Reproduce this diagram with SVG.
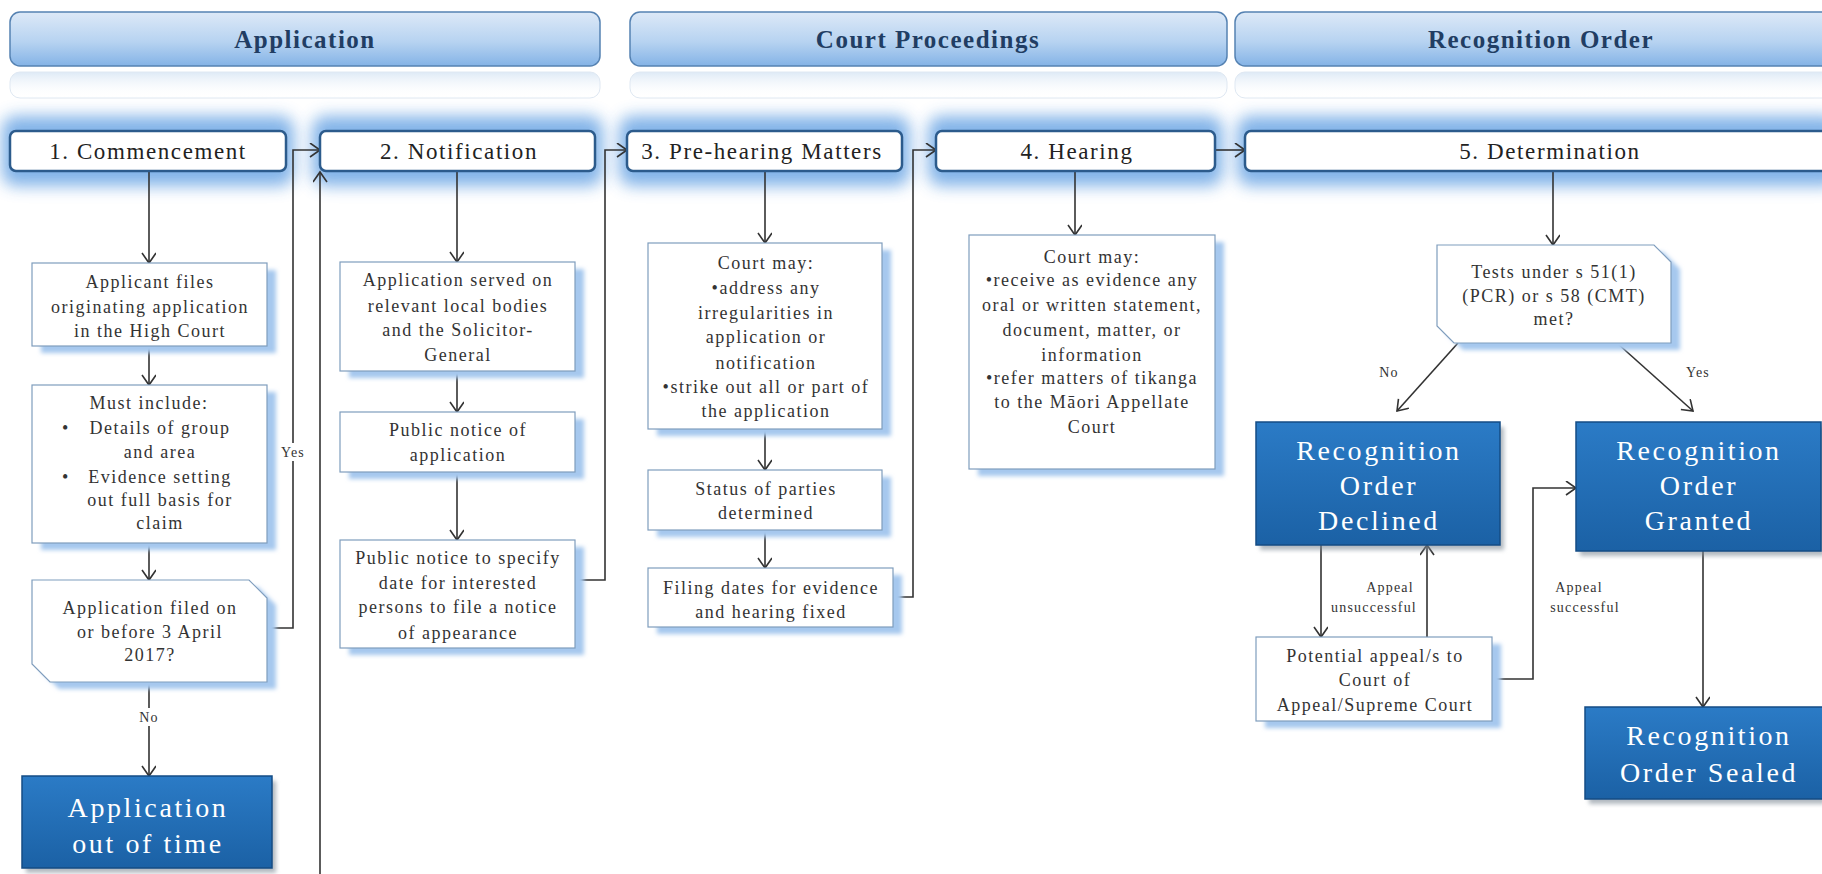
<svg xmlns="http://www.w3.org/2000/svg" width="1822" height="874" viewBox="0 0 1822 874">
<defs>
<style>
.hdrbox{fill:url(#gHdr);stroke:#5582b2;stroke-width:1.5}
.refl{fill:url(#gRefl);stroke:#dfe8f2;stroke-width:1}
.hdr{font-family:"Liberation Serif",serif;font-weight:bold;font-size:25px;fill:#213d63;letter-spacing:1.5px;text-anchor:middle}
.glow{fill:#74abe6;opacity:0.9;filter:url(#fGlow)}
.stepbox{fill:#fff;stroke:#2c5b8c;stroke-width:2.5}
.step{font-family:"Liberation Serif",serif;font-size:23px;fill:#222;letter-spacing:1.6px;text-anchor:middle}
.box{fill:#fff;stroke:#7f9dbd;stroke-width:1.2}
.sh{fill:#a6c8ee;filter:url(#fSh)}
.shd{fill:#7f8a96;filter:url(#fSh);opacity:0.6}
.dbox{fill:url(#gDark);stroke:#154c85;stroke-width:1.5}
.t{font-family:"Liberation Serif",serif;font-size:18px;fill:#333;letter-spacing:1.5px;text-anchor:middle}
.big{font-family:"Liberation Serif",serif;font-size:28px;fill:#fff;letter-spacing:2.6px;text-anchor:middle}
.lbl{font-family:"Liberation Serif",serif;font-size:14px;fill:#333;letter-spacing:1.2px;text-anchor:middle}
.ca{fill:none;stroke:#333;stroke-width:1.6;marker-end:url(#arr)}
.bg{fill:#fff}
</style>
<marker id="arr" markerUnits="userSpaceOnUse" markerWidth="14" markerHeight="16" refX="11" refY="7" orient="auto">
<path d="M1,0 L11,7 L1,14" fill="none" stroke="#333" stroke-width="1.6"/>
</marker>
<linearGradient id="gHdr" x1="0" y1="0" x2="0" y2="1">
<stop offset="0" stop-color="#dde9f7"/>
<stop offset="0.55" stop-color="#b7d3f1"/>
<stop offset="1" stop-color="#84b3e6"/>
</linearGradient>
<linearGradient id="gRefl" x1="0" y1="0" x2="0" y2="1">
<stop offset="0" stop-color="#cfe0f2" stop-opacity="0.7"/>
<stop offset="1" stop-color="#ffffff" stop-opacity="0"/>
</linearGradient>
<linearGradient id="gDark" x1="0" y1="0" x2="0" y2="1">
<stop offset="0" stop-color="#2b7bc6"/>
<stop offset="1" stop-color="#1b61a5"/>
</linearGradient>
<filter id="fGlow" x="-20%" y="-80%" width="140%" height="260%">
<feGaussianBlur stdDeviation="8"/>
</filter>
<filter id="fSh" x="-10%" y="-10%" width="120%" height="120%">
<feGaussianBlur stdDeviation="2"/>
</filter>
</defs>
<rect width="1822" height="874" fill="#fff"/>

<g id="headers">
<g id="hdr-application">
<rect class="refl" x="10" y="72" width="590" height="26" rx="10"/>
<rect class="hdrbox" x="10" y="12" width="590" height="54" rx="10"/>
<text class="hdr" x="305" y="48">Application</text>
</g>
<g id="hdr-court">
<rect class="refl" x="630" y="72" width="597" height="26" rx="10"/>
<rect class="hdrbox" x="630" y="12" width="597" height="54" rx="10"/>
<text class="hdr" x="928" y="48">Court Proceedings</text>
</g>
<g id="hdr-recognition">
<rect class="refl" x="1235" y="72" width="600" height="26" rx="10"/>
<rect class="hdrbox" x="1235" y="12" width="600" height="54" rx="10"/>
<text class="hdr" x="1541" y="48">Recognition Order</text>
</g>
</g>

<g id="glows">
<rect class="glow" x="2" y="116" width="292" height="70" rx="14"/>
<rect class="glow" x="312" y="116" width="291" height="70" rx="14"/>
<rect class="glow" x="619" y="116" width="291" height="70" rx="14"/>
<rect class="glow" x="928" y="116" width="295" height="70" rx="14"/>
<rect class="glow" x="1237" y="116" width="604" height="70" rx="14"/>
</g>

<g id="connectors">
<path class="ca" d="M149,172 V263"/>
<path class="ca" d="M149,346 V385"/>
<path class="ca" d="M149,543 V580"/>
<path class="ca" d="M267,628 H293 V150 H320"/>
<rect class="bg" x="280" y="443" width="26" height="18"/>
<text class="lbl" x="293" y="457">Yes</text>
<path class="ca" d="M149,682 V776"/>
<rect class="bg" x="136" y="708" width="26" height="18"/>
<text class="lbl" x="149" y="722">No</text>
<path class="ca" d="M320,874 V172"/>
<path class="ca" d="M457,172 V262"/>
<path class="ca" d="M457,371 V412"/>
<path class="ca" d="M457,472 V540"/>
<path class="ca" d="M575,580 H605 V150 H627"/>
<path class="ca" d="M765,171 V243"/>
<path class="ca" d="M765,429 V470"/>
<path class="ca" d="M765,530 V568"/>
<path class="ca" d="M893,597 H913 V150 H936"/>
<path class="ca" d="M1075,171 V235"/>
<path class="ca" d="M1215,150 H1245"/>
<path class="ca" d="M1553,171 V245"/>
<path class="ca" d="M1458,343 L1397,411"/>
<text class="lbl" x="1389" y="377">No</text>
<path class="ca" d="M1617,343 L1693,411"/>
<text class="lbl" x="1698" y="377">Yes</text>
<path class="ca" d="M1321,545 V637"/>
<path class="ca" d="M1427,637 V545"/>
<text class="lbl" x="1390" y="592">Appeal</text>
<text class="lbl" x="1374" y="612">unsuccessful</text>
<path class="ca" d="M1492,679 H1533 V488 H1576"/>
<text class="lbl" x="1579" y="592">Appeal</text>
<text class="lbl" x="1585" y="612">successful</text>
<path class="ca" d="M1703,551 V707"/>
</g>

<g id="step1">
<rect class="stepbox" x="10" y="131" width="276" height="40" rx="6"/>
<text class="step" x="148" y="159">1. Commencement</text>
</g>
<g id="step2">
<rect class="stepbox" x="320" y="131" width="275" height="40" rx="6"/>
<text class="step" x="459" y="159">2. Notification</text>
</g>
<g id="step3">
<rect class="stepbox" x="627" y="131" width="275" height="40" rx="6"/>
<text class="step" x="762" y="159">3. Pre-hearing Matters</text>
</g>
<g id="step4">
<rect class="stepbox" x="936" y="131" width="279" height="40" rx="6"/>
<text class="step" x="1077" y="159">4. Hearing</text>
</g>
<g id="step5">
<rect class="stepbox" x="1245" y="131" width="600" height="40" rx="6"/>
<text class="step" x="1550" y="159">5. Determination</text>
</g>

<g id="applicant-files">
<rect class="sh" x="41" y="270" width="235" height="83"/>
<rect class="box" x="32" y="263" width="235" height="83"/>
<text class="t"><tspan x="150" y="288">Applicant files</tspan><tspan x="150" y="313">originating application</tspan><tspan x="150" y="337">in the High Court</tspan></text>
</g>
<g id="must-include">
<rect class="sh" x="41" y="392" width="235" height="158"/>
<rect class="box" x="32" y="385" width="235" height="158"/>
<text class="t"><tspan x="149" y="409">Must include:</tspan><tspan x="160" y="434">Details of group</tspan><tspan x="160" y="458">and area</tspan><tspan x="160" y="483">Evidence setting</tspan><tspan x="160" y="506">out full basis for</tspan><tspan x="160" y="529">claim</tspan></text>
<text class="t"><tspan x="66" y="434">•</tspan><tspan x="66" y="483">•</tspan></text>
</g>
<g id="filed-on-time">
<polygon class="sh" points="41,587 258,587 276,605 276,689 59,689 41,671"/>
<polygon class="box" points="32,580 249,580 267,598 267,682 50,682 32,664"/>
<text class="t"><tspan x="150" y="614">Application filed on</tspan><tspan x="150" y="638">or before 3 April</tspan><tspan x="150" y="661">2017?</tspan></text>
</g>
<g id="out-of-time">
<rect class="shd" x="26" y="781" width="250" height="92"/>
<rect class="dbox" x="22" y="776" width="250" height="92"/>
<text class="big"><tspan x="148" y="817">Application</tspan><tspan x="148" y="853">out of time</tspan></text>
</g>

<g id="served">
<rect class="sh" x="349" y="269" width="235" height="109"/>
<rect class="box" x="340" y="262" width="235" height="109"/>
<text class="t"><tspan x="458" y="286">Application served on</tspan><tspan x="458" y="312">relevant local bodies</tspan><tspan x="458" y="336">and the Solicitor-</tspan><tspan x="458" y="361">General</tspan></text>
</g>
<g id="public-notice">
<rect class="sh" x="349" y="419" width="235" height="60"/>
<rect class="box" x="340" y="412" width="235" height="60"/>
<text class="t"><tspan x="458" y="436">Public notice of</tspan><tspan x="458" y="461">application</tspan></text>
</g>
<g id="notice-specify">
<rect class="sh" x="349" y="547" width="235" height="108"/>
<rect class="box" x="340" y="540" width="235" height="108"/>
<text class="t"><tspan x="458" y="564">Public notice to specify</tspan><tspan x="458" y="589">date for interested</tspan><tspan x="458" y="613">persons to file a notice</tspan><tspan x="458" y="639">of appearance</tspan></text>
</g>

<g id="prehearing-court-may">
<rect class="sh" x="657" y="250" width="234" height="186"/>
<rect class="box" x="648" y="243" width="234" height="186"/>
<text class="t"><tspan x="766" y="269">Court may:</tspan><tspan x="766" y="294">•address any</tspan><tspan x="766" y="319">irregularities in</tspan><tspan x="766" y="343">application or</tspan><tspan x="766" y="369">notification</tspan><tspan x="766" y="393">•strike out all or part of</tspan><tspan x="766" y="417">the application</tspan></text>
</g>
<g id="status-parties">
<rect class="sh" x="657" y="477" width="234" height="60"/>
<rect class="box" x="648" y="470" width="234" height="60"/>
<text class="t"><tspan x="766" y="495">Status of parties</tspan><tspan x="766" y="519">determined</tspan></text>
</g>
<g id="filing-dates">
<rect class="sh" x="657" y="575" width="245" height="59"/>
<rect class="box" x="648" y="568" width="245" height="59"/>
<text class="t"><tspan x="771" y="594">Filing dates for evidence</tspan><tspan x="771" y="618">and hearing fixed</tspan></text>
</g>

<g id="hearing-court-may">
<rect class="sh" x="978" y="242" width="246" height="234"/>
<rect class="box" x="969" y="235" width="246" height="234"/>
<text class="t"><tspan x="1092" y="263">Court may:</tspan><tspan x="1092" y="286">•receive as evidence any</tspan><tspan x="1092" y="311">oral or written statement,</tspan><tspan x="1092" y="336">document, matter, or</tspan><tspan x="1092" y="361">information</tspan><tspan x="1092" y="384">•refer matters of tikanga</tspan><tspan x="1092" y="408">to the Māori Appellate</tspan><tspan x="1092" y="433">Court</tspan></text>
</g>

<g id="tests-met">
<polygon class="sh" points="1446,252 1663,252 1680,269 1680,350 1463,350 1446,333"/>
<polygon class="box" points="1437,245 1654,245 1671,262 1671,343 1454,343 1437,326"/>
<text class="t"><tspan x="1554" y="278">Tests under s 51(1)</tspan><tspan x="1554" y="302">(PCR) or s 58 (CMT)</tspan><tspan x="1554" y="325">met?</tspan></text>
</g>
<g id="declined">
<rect class="shd" x="1260" y="427" width="244" height="123"/>
<rect class="dbox" x="1256" y="422" width="244" height="123"/>
<text class="big"><tspan x="1379" y="460">Recognition</tspan><tspan x="1379" y="495">Order</tspan><tspan x="1379" y="530">Declined</tspan></text>
</g>
<g id="granted">
<rect class="shd" x="1580" y="427" width="245" height="129"/>
<rect class="dbox" x="1576" y="422" width="245" height="129"/>
<text class="big"><tspan x="1699" y="460">Recognition</tspan><tspan x="1699" y="495">Order</tspan><tspan x="1699" y="530">Granted</tspan></text>
</g>
<g id="potential-appeal">
<rect class="sh" x="1265" y="644" width="236" height="84"/>
<rect class="box" x="1256" y="637" width="236" height="84"/>
<text class="t"><tspan x="1375" y="662">Potential appeal/s to</tspan><tspan x="1375" y="686">Court of</tspan><tspan x="1375" y="711">Appeal/Supreme Court</tspan></text>
</g>
<g id="sealed">
<rect class="shd" x="1589" y="712" width="236" height="92"/>
<rect class="dbox" x="1585" y="707" width="240" height="92"/>
<text class="big"><tspan x="1709" y="745">Recognition</tspan><tspan x="1709" y="782">Order Sealed</tspan></text>
</g>
</svg>
